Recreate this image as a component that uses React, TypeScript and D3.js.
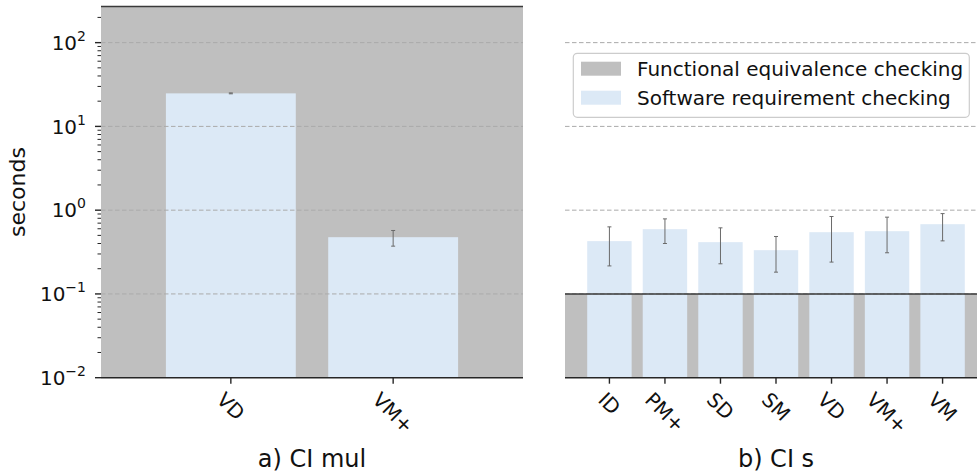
import React, { useRef, useEffect } from 'react';
import * as d3 from 'd3';

// a) CI mul
const mulLabels = ['VD', 'VM+'];
const mulTimes = [24.8, 0.476];
const mulErrLow = [24.5, 0.372];
const mulErrHigh = [25.1, 0.572];
const mulFunctional = 270;

// b) CI s
const sLabels = ['ID', 'PM+', 'SD', 'SM', 'VD', 'VM+', 'VM'];
const sTimes = [0.427, 0.593, 0.415, 0.333, 0.546, 0.561, 0.68];
const sErrLow = [0.216, 0.4, 0.229, 0.182, 0.24, 0.31, 0.43];
const sErrHigh = [0.632, 0.787, 0.615, 0.485, 0.84, 0.825, 0.91];
const sFunctional = 0.1;

const yTicks = [0.01, 0.1, 1, 10, 100];
const gridTicks = [0.1, 1, 10, 100];
const legendLabels = ['Functional equivalence checking', 'Software requirement checking'];

const GRAY = '#bfbfbf';
const BLUE = '#dce9f6';
const FONT = 'DejaVu Sans, sans-serif';

const App: React.FC = () => {
  const svgRef = useRef<SVGSVGElement | null>(null);

  useEffect(() => {
    const svg = d3.select(svgRef.current);
    svg.selectAll('*').remove();

    const top = 6.5;
    const bottom = 377.7;
    const y = d3.scaleLog().domain([0.01, 270]).range([bottom, top]);

    const drawPanel = (
      left: number,
      right: number,
      labels: string[],
      times: number[],
      lo: number[],
      hi: number[],
      fe: number,
      title: string
    ) => {
      const x = d3.scaleLinear().domain([-0.8, labels.length - 0.2]).range([left, right]);
      const g = svg.append('g');
      const feTop = y(Math.min(fe, y.domain()[1]));
      const bw = x(0.8) - x(0);

      // functional equivalence checking (background)
      g.append('rect')
        .attr('x', left)
        .attr('y', feTop)
        .attr('width', right - left)
        .attr('height', bottom - feTop)
        .attr('fill', GRAY);

      // software requirement checking
      g.selectAll('rect.bar')
        .data(times)
        .join('rect')
        .attr('class', 'bar')
        .attr('x', (d, i) => x(i) - bw / 2)
        .attr('y', d => y(d))
        .attr('width', bw)
        .attr('height', d => bottom - y(d))
        .attr('fill', BLUE);

      g.selectAll('line.grid')
        .data(gridTicks)
        .join('line')
        .attr('class', 'grid')
        .attr('x1', left)
        .attr('x2', right)
        .attr('y1', d => y(d))
        .attr('y2', d => y(d))
        .attr('stroke', '#aaaaaa')
        .attr('stroke-width', 1)
        .attr('stroke-dasharray', '4.5,2.5');

      g.append('line')
        .attr('x1', left)
        .attr('x2', right)
        .attr('y1', feTop)
        .attr('y2', feTop)
        .attr('stroke', '#3a3a3a')
        .attr('stroke-width', 1.6);

      // error bars
      const eb = g.selectAll('g.err').data(times).join('g').attr('class', 'err')
        .attr('stroke', '#6a6a6a').attr('stroke-width', 1);
      eb.append('line')
        .attr('x1', (d, i) => x(i)).attr('x2', (d, i) => x(i))
        .attr('y1', (d, i) => y(lo[i])).attr('y2', (d, i) => y(hi[i]));
      eb.append('line')
        .attr('x1', (d, i) => x(i) - 2).attr('x2', (d, i) => x(i) + 2)
        .attr('y1', (d, i) => y(lo[i])).attr('y2', (d, i) => y(lo[i]));
      eb.append('line')
        .attr('x1', (d, i) => x(i) - 2).attr('x2', (d, i) => x(i) + 2)
        .attr('y1', (d, i) => y(hi[i])).attr('y2', (d, i) => y(hi[i]));

      // bottom spine
      g.append('line')
        .attr('x1', left).attr('x2', right)
        .attr('y1', bottom).attr('y2', bottom)
        .attr('stroke', '#262626').attr('stroke-width', 1.6);

      // x ticks + rotated labels
      labels.forEach((lab, i) => {
        g.append('line')
          .attr('x1', x(i)).attr('x2', x(i))
          .attr('y1', bottom).attr('y2', bottom + 6)
          .attr('stroke', '#262626').attr('stroke-width', 1.4);
        const t = g.append('text')
          .attr('font-family', FONT)
          .attr('font-size', 20)
          .attr('text-anchor', 'middle')
          .attr('dominant-baseline', 'central')
          .attr('fill', '#111')
          .text(lab);
        const w = (t.node() as SVGTextElement).getComputedTextLength();
        const cy = 391 + (w + 14) * 0.3535;
        t.attr('transform', `translate(${x(i)},${cy}) rotate(45)`);
      });

      g.append('text')
        .attr('x', (left + right) / 2)
        .attr('y', 467)
        .attr('text-anchor', 'middle')
        .attr('font-family', FONT)
        .attr('font-size', 24)
        .attr('fill', '#111')
        .text(title);
    };

    drawPanel(101, 523, mulLabels, mulTimes, mulErrLow, mulErrHigh, mulFunctional, 'a) CI mul');
    drawPanel(565, 987, sLabels, sTimes, sErrLow, sErrHigh, sFunctional, 'b) CI s');

    // y axis (left panel)
    const ax = svg.append('g');
    const minor: number[] = [];
    for (let e = -2; e <= 2; e++) {
      for (let m = 2; m <= 9; m++) {
        const v = m * Math.pow(10, e);
        if (v <= y.domain()[1]) minor.push(v);
      }
    }
    ax.selectAll('line.minor').data(minor).join('line')
      .attr('x1', 97.5).attr('x2', 101)
      .attr('y1', d => y(d)).attr('y2', d => y(d))
      .attr('stroke', '#262626').attr('stroke-width', 1);
    ax.selectAll('line.major').data(yTicks).join('line')
      .attr('x1', 95).attr('x2', 101)
      .attr('y1', d => y(d)).attr('y2', d => y(d))
      .attr('stroke', '#262626').attr('stroke-width', 1.4);
    const lbl = ax.selectAll('text.ylab').data(yTicks).join('text')
      .attr('x', 86)
      .attr('y', d => y(d) + 7.3)
      .attr('text-anchor', 'end')
      .attr('font-family', FONT)
      .attr('font-size', 20)
      .attr('fill', '#111');
    lbl.append('tspan').text('10');
    lbl.append('tspan')
      .attr('dy', -9)
      .attr('font-size', 14)
      .text(d => String(Math.round(Math.log10(d))).replace('-', '\u2212'));

    svg.append('text')
      .attr('transform', `translate(25,${(top + bottom) / 2}) rotate(-90)`)
      .attr('text-anchor', 'middle')
      .attr('font-family', FONT)
      .attr('font-size', 22)
      .attr('fill', '#111')
      .text('seconds');

    // legend
    const lg = svg.append('g');
    lg.append('rect')
      .attr('x', 573.3).attr('y', 53.3)
      .attr('width', 396).attr('height', 64)
      .attr('rx', 4)
      .attr('fill', 'white').attr('fill-opacity', 0.8)
      .attr('stroke', '#cccccc').attr('stroke-width', 1.2);
    const items = lg.selectAll('g.item').data(legendLabels).join('g')
      .attr('class', 'item')
      .attr('transform', (d, i) => `translate(581,${61.7 + i * 29})`);
    items.append('rect')
      .attr('width', 40).attr('height', 14)
      .attr('fill', (d, i) => (i === 0 ? GRAY : BLUE));
    items.append('text')
      .attr('x', 56).attr('y', 14.5)
      .attr('font-family', FONT)
      .attr('font-size', 20)
      .attr('fill', '#111')
      .text(d => d);
  }, []);

  return (
    <svg
      ref={svgRef}
      width={977}
      height={473}
      style={{ position: 'absolute', left: 0, top: 0, background: 'white' }}
    ></svg>
  );
};

export default App;
